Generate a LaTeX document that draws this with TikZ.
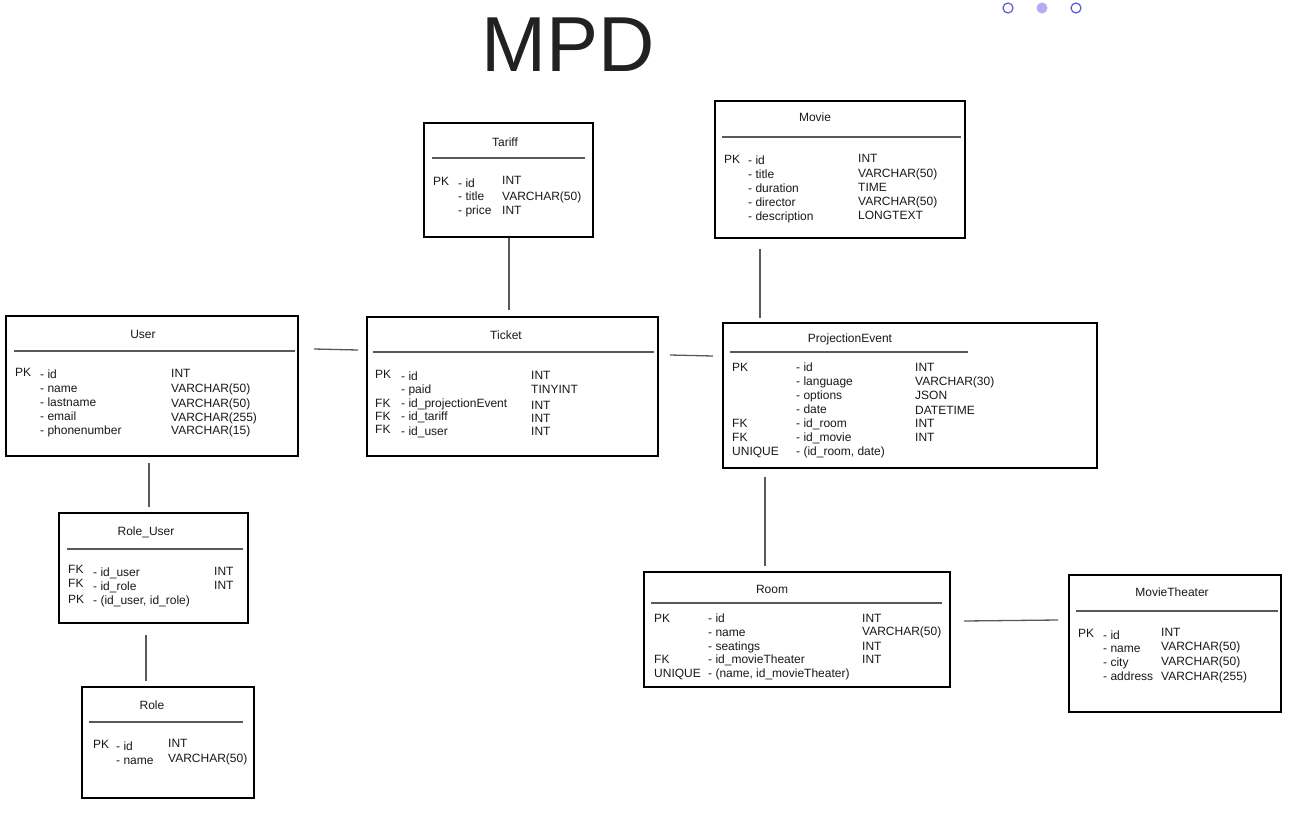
\documentclass[tikz,border=0pt]{standalone}
\usepackage{fontspec}
\setmainfont{Liberation Sans}
\newcounter{tn}
\newcommand\tx[3]{\stepcounter{tn}\node[txt] (t\arabic{tn}) at ({#1},{#2+4.3}) {#3};}
\newcommand\hd[4]{\node[hdr] (#1) at ({#2},{#3+4.3}) {#4};}
\newcommand\tbl[5]{\node[tblbox, minimum width={#4-#2}, minimum height={#5-#3}] (#1) at ({#2},{#3}) {};}
\begin{document}
\begin{tikzpicture}[x=1pt,y=-1pt,
  txt/.style={anchor=base west, inner sep=0pt, font=\fontsize{12}{14}\selectfont, text=black!90},
  hdr/.style={anchor=base, inner sep=0pt, font=\fontsize{12}{14}\selectfont, text=black!90},
  tblbox/.style={draw=black, line width=2.6pt, anchor=north west, inner sep=0pt, outer sep=0pt, fill=white},
  div/.style={draw=black!65, line width=1.3pt},
  conn/.style={draw=black!65, line width=1.3pt}]
\useasboundingbox (0,0) rectangle (1290,814);
\fill[white] (0,0) rectangle (1290,814);

% title
\node[anchor=base, inner sep=0pt, font=\fontsize{78}{84}\selectfont, text=black!87] (title) at (568,71) {MPD};
% dots
\node[circle, draw={rgb,255:red,90;green,90;blue,214}, line width=1.2pt, minimum size=10pt, inner sep=0pt] (d1) at (1008,8) {};
\node[circle, fill={rgb,255:red,185;green,170;blue,245}, minimum size=11pt, inner sep=0pt] (d2) at (1042,8) {};
\node[circle, draw={rgb,255:red,90;green,90;blue,214}, line width=1.2pt, minimum size=10pt, inner sep=0pt] (d3) at (1076,8) {};

% ---------- Tariff
\tbl{tariff}{424}{123}{593}{237}
\hd{tariffh}{505}{142}{Tariff}
\draw[div] (432,158) -- (585,158);
\tx{433}{181}{PK}
\tx{458}{183}{- id}
\tx{458}{196}{- title}
\tx{458}{210}{- price}
\tx{502}{180}{INT}
\tx{502}{196}{VARCHAR(50)}
\tx{502}{210}{INT}

% ---------- Movie
\tbl{movie}{715}{101}{965}{238}
\hd{movieh}{815}{117}{Movie}
\draw[div] (722,137) -- (961,137);
\tx{724}{159}{PK}
\tx{748}{160}{- id}
\tx{748}{174}{- title}
\tx{748}{188}{- duration}
\tx{748}{202}{- director}
\tx{748}{216}{- description}
\tx{858}{158}{INT}
\tx{858}{173}{VARCHAR(50)}
\tx{858}{187}{TIME}
\tx{858}{201}{VARCHAR(50)}
\tx{858}{215}{LONGTEXT}

% ---------- User
\tbl{user}{6}{316}{298}{456}
\hd{userh}{143}{334}{User}
\draw[div] (14,351) -- (295,351);
\tx{15}{372}{PK}
\tx{40}{374}{- id}
\tx{40}{388}{- name}
\tx{40}{402}{- lastname}
\tx{40}{416}{- email}
\tx{40}{430}{- phonenumber}
\tx{171}{373}{INT}
\tx{171}{388}{VARCHAR(50)}
\tx{171}{403}{VARCHAR(50)}
\tx{171}{417}{VARCHAR(255)}
\tx{171}{430}{VARCHAR(15)}

% ---------- Ticket
\tbl{ticket}{367}{317}{658}{456}
\hd{tickh}{506}{335}{Ticket}
\draw[div] (373,352) -- (654,352);
\tx{375}{374}{PK}
\tx{375}{403}{FK}
\tx{375}{416}{FK}
\tx{375}{429}{FK}
\tx{401}{376}{- id}
\tx{401}{389}{- paid}
\tx{401}{403}{- id\_projectionEvent}
\tx{401}{416}{- id\_tariff}
\tx{401}{431}{- id\_user}
\tx{531}{375}{INT}
\tx{531}{389}{TINYINT}
\tx{531}{405}{INT}
\tx{531}{418}{INT}
\tx{531}{431}{INT}

% ---------- ProjectionEvent
\tbl{pe}{723}{323}{1097}{468}
\hd{peh}{850}{338}{ProjectionEvent}
\draw[div] (730,352) -- (968,352);
\tx{732}{367}{PK}
\tx{732}{423}{FK}
\tx{732}{437}{FK}
\tx{732}{451}{UNIQUE}
\tx{796}{367}{- id}
\tx{796}{381}{- language}
\tx{796}{395}{- options}
\tx{796}{409}{- date}
\tx{796}{423}{- id\_room}
\tx{796}{437}{- id\_movie}
\tx{796}{451}{- (id\_room, date)}
\tx{915}{367}{INT}
\tx{915}{381}{VARCHAR(30)}
\tx{915}{395}{JSON}
\tx{915}{410}{DATETIME}
\tx{915}{423}{INT}
\tx{915}{437}{INT}

% ---------- Role_User
\tbl{roleuser}{59}{513}{248}{623}
\hd{ruh}{146}{531}{Role\_User}
\draw[div] (67,549) -- (243,549);
\tx{68}{569}{FK}
\tx{68}{583}{FK}
\tx{68}{599}{PK}
\tx{93}{572}{- id\_user}
\tx{93}{586}{- id\_role}
\tx{93}{600}{- (id\_user, id\_role)}
\tx{214}{571}{INT}
\tx{214}{585}{INT}

% ---------- Role
\tbl{role}{82}{687}{254}{798}
\hd{roleh}{152}{705}{Role}
\draw[div] (89,722) -- (243,722);
\tx{93}{744}{PK}
\tx{116}{746}{- id}
\tx{116}{760}{- name}
\tx{168}{743}{INT}
\tx{168}{758}{VARCHAR(50)}

% ---------- Room
\tbl{room}{644}{572}{950}{687}
\hd{roomh}{772}{589}{Room}
\draw[div] (651,603) -- (942,603);
\tx{654}{618}{PK}
\tx{654}{659}{FK}
\tx{654}{673}{UNIQUE}
\tx{708}{618}{- id}
\tx{708}{632}{- name}
\tx{708}{646}{- seatings}
\tx{708}{659}{- id\_movieTheater}
\tx{708}{673}{- (name, id\_movieTheater)}
\tx{862}{618}{INT}
\tx{862}{631}{VARCHAR(50)}
\tx{862}{646}{INT}
\tx{862}{659}{INT}

% ---------- MovieTheater
\tbl{mt}{1069}{575}{1281}{712}
\hd{mth}{1172}{592}{MovieTheater}
\draw[div] (1076,611) -- (1278,611);
\tx{1078}{633}{PK}
\tx{1103}{635}{- id}
\tx{1103}{648}{- name}
\tx{1103}{662}{- city}
\tx{1103}{676}{- address}
\tx{1161}{632}{INT}
\tx{1161}{646}{VARCHAR(50)}
\tx{1161}{661}{VARCHAR(50)}
\tx{1161}{676}{VARCHAR(255)}

% ---------- connectors
\coordinate (c1a) at (509,238); \coordinate (c1b) at (509,310);
\coordinate (c2a) at (760,249); \coordinate (c2b) at (760,318);
\coordinate (c3a) at (314,349); \coordinate (c3b) at (358,350);
\coordinate (c4a) at (670,355); \coordinate (c4b) at (713,356);
\coordinate (c5a) at (149,463); \coordinate (c5b) at (149,507);
\coordinate (c6a) at (146,635); \coordinate (c6b) at (146,681);
\coordinate (c7a) at (765,477); \coordinate (c7b) at (765,566);
\coordinate (c8a) at (964,621); \coordinate (c8b) at (1058,620);
\draw[conn] (c1a) -- (c1b);
\draw[conn] (c2a) -- (c2b);
\draw[conn] (c3a) -- (c3b);
\draw[conn] (c4a) -- (c4b);
\draw[conn] (c5a) -- (c5b);
\draw[conn] (c6a) -- (c6b);
\draw[conn] (c7a) -- (c7b);
\draw[conn] (c8a) -- (c8b);
\end{tikzpicture}
\end{document}
